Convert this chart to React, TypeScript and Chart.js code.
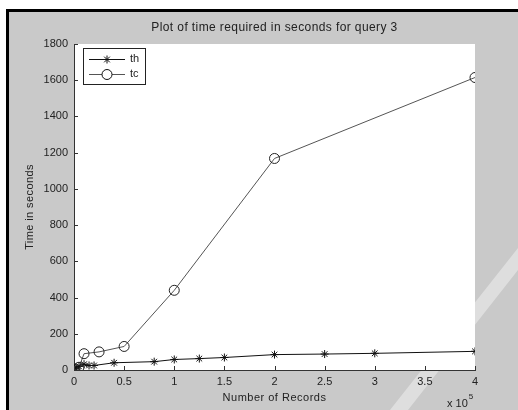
import React, { useEffect, useRef } from "react";
import { Chart, registerables } from "chart.js";
Chart.register(...registerables);

const chartTitle = "Plot of time required in seconds for query 3";
const xAxisTitle = "Number of Records";
const yAxisTitle = "Time in seconds";
const seriesNames = ["th", "tc"];

const thRecords = [0, 1000, 5000, 10000, 15000, 20000, 40000, 80000, 100000, 125000, 150000, 200000, 250000, 300000, 400000];
const thTimes = [5, 10, 20, 32, 25, 25, 40, 46, 58, 63, 69, 85, 88, 92, 103];

const tcRecords = [0, 1000, 5000, 10000, 25000, 50000, 100000, 200000, 400000];
const tcTimes = [2, 6, 15, 90, 100, 130, 440, 1168, 1615];

const xMax = 400000;
const xStep = 50000;
const yMax = 1800;
const yStep = 200;
const xExponentBase = "x 10";
const xExponent = "5";

const FONT = "'Liberation Sans', Arial, Helvetica, sans-serif";
const TEXT = "#222";

const decor = {
  id: "decor",
  beforeDraw(chart: any) {
    const { ctx, chartArea: a } = chart;
    ctx.save();
    // faint diagonal watermark band on the grey figure background
    ctx.fillStyle = "rgba(255,255,255,0.4)";
    ctx.beginPath();
    ctx.moveTo(390, 410);
    ctx.lineTo(408, 410);
    ctx.lineTo(518, 270);
    ctx.lineTo(518, 248);
    ctx.closePath();
    ctx.fill();
    ctx.fillStyle = "#ffffff";
    ctx.fillRect(a.left, a.top, a.right - a.left, a.bottom - a.top);
    ctx.restore();
  },
  afterDraw(chart: any) {
    const { ctx, chartArea: a } = chart;
    const xs = chart.scales.x;
    const ys = chart.scales.y;
    ctx.save();
    ctx.strokeStyle = "#333";
    ctx.lineWidth = 1;
    ctx.beginPath();
    xs.ticks.forEach((t: any) => {
      const px = Math.round(xs.getPixelForValue(t.value)) + 0.5;
      ctx.moveTo(px, a.bottom);
      ctx.lineTo(px, a.bottom - 4);
    });
    ys.ticks.forEach((t: any) => {
      const py = Math.round(ys.getPixelForValue(t.value)) + 0.5;
      ctx.moveTo(a.left, py);
      ctx.lineTo(a.left + 4, py);
    });
    ctx.stroke();

    ctx.fillStyle = TEXT;
    ctx.textAlign = "center";
    ctx.textBaseline = "middle";
    const cx = (a.left + a.right) / 2;
    ctx.font = `12px ${FONT}`;
    (ctx as any).letterSpacing = "0.4px";
    ctx.fillText(chartTitle, cx, 28);
    ctx.font = `11px ${FONT}`;
    (ctx as any).letterSpacing = "0.5px";
    ctx.fillText(xAxisTitle, cx, 398);
    ctx.save();
    ctx.translate(30, (a.top + a.bottom) / 2);
    ctx.rotate(-Math.PI / 2);
    (ctx as any).letterSpacing = "0.4px";
    ctx.fillText(yAxisTitle, 0, 0);
    ctx.restore();
    (ctx as any).letterSpacing = "0px";

    ctx.textAlign = "left";
    ctx.font = `11px ${FONT}`;
    ctx.fillText(xExponentBase, 447, 404);
    const w = ctx.measureText(xExponentBase).width;
    ctx.font = `8px ${FONT}`;
    ctx.fillText(xExponent, 447 + w + 1, 397);

    // legend
    const bx = 83, by = 48, bw = 62, bh = 36;
    ctx.fillStyle = "#fff";
    ctx.fillRect(bx, by, bw, bh);
    ctx.strokeStyle = "#222";
    ctx.strokeRect(bx + 0.5, by + 0.5, bw, bh);
    chart.data.datasets.forEach((ds: any, i: number) => {
      const ry = by + 11 + i * 15;
      ctx.strokeStyle = ds.borderColor;
      ctx.lineWidth = 1;
      ctx.beginPath();
      ctx.moveTo(89, ry + 0.5);
      ctx.lineTo(125, ry + 0.5);
      ctx.stroke();
      ctx.strokeStyle = "#111";
      const mx = 107, r = ds.pointRadius;
      ctx.beginPath();
      if (ds.pointStyle === "circle") {
        ctx.fillStyle = "#fff";
        ctx.arc(mx, ry + 0.5, r, 0, Math.PI * 2);
        ctx.fill();
      } else {
        for (let k = 0; k < 4; k++) {
          const ang = (k * Math.PI) / 4;
          ctx.moveTo(mx - r * Math.cos(ang), ry + 0.5 - r * Math.sin(ang));
          ctx.lineTo(mx + r * Math.cos(ang), ry + 0.5 + r * Math.sin(ang));
        }
      }
      ctx.stroke();
      ctx.fillStyle = TEXT;
      ctx.font = `11px ${FONT}`;
      ctx.textAlign = "left";
      ctx.fillText(ds.label, 130, ry);
    });
    ctx.restore();
  },
};

export default function App() {
  const ref = useRef<HTMLCanvasElement | null>(null);
  useEffect(() => {
    if (!ref.current) return;
    const chart = new Chart(ref.current, {
      type: "line",
      data: {
        datasets: [
          {
            label: seriesNames[0],
            data: thRecords.map((x, i) => ({ x, y: thTimes[i] })),
            borderColor: "#111",
            borderWidth: 1,
            pointStyle: "star",
            pointRadius: 4,
            pointBorderColor: "#111",
            pointBorderWidth: 1,
            pointBackgroundColor: "#111",
            fill: false,
            tension: 0,
          },
          {
            label: seriesNames[1],
            data: tcRecords.map((x, i) => ({ x, y: tcTimes[i] })),
            borderColor: "#555",
            borderWidth: 1,
            pointStyle: "circle",
            pointRadius: 5,
            pointBorderColor: "#222",
            pointBorderWidth: 1,
            pointBackgroundColor: "rgba(255,255,255,0)",
            fill: false,
            tension: 0,
          },
        ],
      },
      options: {
        responsive: false,
        animation: false,
        devicePixelRatio: 1,
        layout: { padding: { left: 10, right: 43, top: 44, bottom: 0 } },
        plugins: { legend: { display: false }, tooltip: { enabled: false }, title: { display: false } },
        scales: {
          x: {
            type: "linear",
            min: 0,
            max: xMax,
            ticks: {
              stepSize: xStep,
              color: TEXT,
              font: { family: FONT, size: 11 },
              padding: 5,
              maxRotation: 0,
              callback: (v: any) => String(Number(v) / 1e5),
            },
            grid: { display: false, drawTicks: false },
            border: { display: true, color: "#333", width: 1 },
            afterFit: (s: any) => {
              s.height = 40;
              s.paddingLeft = 0;
              s.paddingRight = 0;
            },
          },
          y: {
            type: "linear",
            min: 0,
            max: yMax,
            ticks: {
              stepSize: yStep,
              color: TEXT,
              font: { family: FONT, size: 11 },
              padding: 6,
              callback: (v: any) => String(v),
            },
            grid: { display: false, drawTicks: false },
            border: { display: true, color: "#333", width: 1 },
            afterFit: (s: any) => {
              s.width = 64;
              s.paddingTop = 0;
              s.paddingBottom = 0;
            },
          },
        },
      } as any,
      plugins: [decor],
    });
    return () => chart.destroy();
  }, []);

  return (
    <div style={{ position: "absolute", left: 0, top: 0, width: 518, height: 410, background: "#fff", overflow: "hidden" }}>
      <div
        style={{
          position: "absolute",
          left: 6,
          top: 9,
          width: 512,
          height: 401,
          boxSizing: "border-box",
          borderTop: "3px solid #000",
          borderLeft: "3px solid #000",
          background: "#c9c9c9",
        }}
      />
      <canvas ref={ref} width={518} height={410} style={{ position: "absolute", left: 0, top: 0, width: 518, height: 410 }} />
    </div>
  );
}
